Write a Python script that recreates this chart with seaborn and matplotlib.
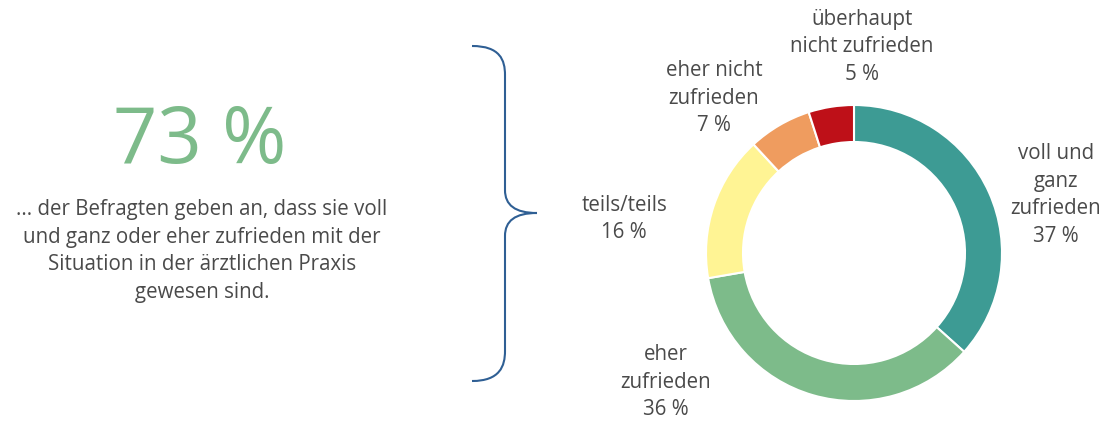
import matplotlib
matplotlib.use("Agg")
import matplotlib.pyplot as plt
import seaborn as sns
from matplotlib.path import Path
from matplotlib.patches import PathPatch


categories = [
    "voll und\nganz\nzufrieden",
    "eher\nzufrieden",
    "teils/teils",
    "eher nicht\nzufrieden",
    "überhaupt\nnicht zufrieden",
]
shares = [37, 36, 16, 7, 5]
colors = ["#3d9b94", "#7dbb8a", "#fff494", "#ef9c5f", "#be1018"]

headline = "73 %"
headline_text = ("... der Befragten geben an, dass sie voll\n"
                 "und ganz oder eher zufrieden mit der\n"
                 "Situation in der ärztlichen Praxis\n"
                 "gewesen sind.")

# label centres in pixel coordinates of the 1104x421 canvas
label_pos = [(1056, 195), (666, 382), (624, 219), (714, 98), (862, 47)]

W, H = 1104, 421
TEXT_GREY = "#4a4a4a"

sns.set_theme(style="white")
plt.rcParams["font.family"] = ["Open Sans", "DejaVu Sans"]

fig = plt.figure(figsize=(W / 100, H / 100), dpi=100)

# overlay axes in pixel units for text and brace
bg = fig.add_axes([0, 0, 1, 1])
bg.set_xlim(0, W)
bg.set_ylim(H, 0)
bg.axis("off")

bg.text(200, 143, headline, ha="center", va="center", fontsize=56,
        color="#7dbb8a")
bg.text(202, 251, headline_text, ha="center", va="center", fontsize=14.8,
        color=TEXT_GREY, linespacing=1.4)

# curly brace
verts = [
    (472, 46), (500, 46), (505, 60), (505, 75),
    (505, 190),
    (505, 205), (515, 213), (537, 213),
    (515, 213), (505, 221), (505, 236),
    (505, 351),
    (505, 366), (500, 381), (472, 381),
]
codes = [
    Path.MOVETO, Path.CURVE4, Path.CURVE4, Path.CURVE4,
    Path.LINETO,
    Path.CURVE4, Path.CURVE4, Path.CURVE4,
    Path.CURVE4, Path.CURVE4, Path.CURVE4,
    Path.LINETO,
    Path.CURVE4, Path.CURVE4, Path.CURVE4,
]
bg.add_patch(PathPatch(Path(verts, codes), fill=False,
                       edgecolor="#2f5f94", linewidth=1.5))

# donut
cx, cy, r = 854, 253, 148
ax = fig.add_axes([(cx - r) / W, (H - cy - r) / H, 2 * r / W, 2 * r / H])
ax.pie(
    shares,
    colors=colors,
    startangle=90,
    counterclock=False,
    radius=1,
    wedgeprops=dict(width=0.25, edgecolor="white", linewidth=1.5),
)
ax.set_xlim(-1, 1)
ax.set_ylim(-1, 1)
ax.set_aspect("equal")
ax.axis("off")

for cat, val, (x, y) in zip(categories, shares, label_pos):
    bg.text(x, y, f"{cat}\n{val} %", ha="center", va="center",
            fontsize=14.8, color=TEXT_GREY, linespacing=1.4)

fig.savefig("out.png", dpi=100)
plt.close(fig)
